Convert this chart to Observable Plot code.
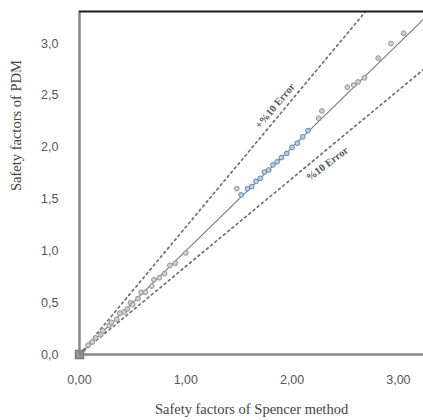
<!DOCTYPE html>
<html>
<head>
<meta charset="utf-8">
<script src="https://cdn.jsdelivr.net/npm/d3@7"></script>
<script src="https://cdn.jsdelivr.net/npm/@observablehq/plot@0.6"></script>
<style>
  html, body { margin: 0; padding: 0; background: #fff; }
</style>
</head>
<body>
<div id="chart"></div>
<script>
// ---- data ----
const xTicks = [0, 1, 2, 3];
const yTicks = [0, 0.5, 1, 1.5, 2, 2.5, 3];
const xDomain = [0, 3.236];
const yDomain = [0, 3.31];

// gray markers (Spencer, PDM)
const spencerGray = [0.0, 0.08, 0.12, 0.15, 0.2, 0.22, 0.28, 0.3, 0.35, 0.38, 0.42, 0.45, 0.48, 0.5, 0.55, 0.58, 0.62, 0.68, 0.7, 0.75, 0.8, 0.85, 0.9, 1.0, 1.48, 2.25, 2.28, 2.52, 2.58, 2.62, 2.68, 2.81, 2.93, 3.05];
const pdmGray     = [0.0, 0.09, 0.12, 0.16, 0.19, 0.23, 0.28, 0.31, 0.34, 0.40, 0.41, 0.44, 0.50, 0.48, 0.54, 0.60, 0.60, 0.66, 0.72, 0.74, 0.78, 0.86, 0.88, 0.98, 1.60, 2.28, 2.35, 2.58, 2.60, 2.63, 2.67, 2.86, 3.00, 3.10];
// blue markers
const spencerBlue = [1.52, 1.58, 1.62, 1.66, 1.70, 1.74, 1.78, 1.82, 1.86, 1.90, 1.95, 2.00, 2.05, 2.10, 2.15];
const pdmBlue     = [1.54, 1.60, 1.62, 1.67, 1.70, 1.76, 1.78, 1.83, 1.86, 1.90, 1.94, 2.00, 2.04, 2.10, 2.16];

// reference lines (1:1, +error, -error)
const equalityLine = {x: [0, 3.4], y: [0, 3.4]};
const upperLine = {x: [0, 3.0], y: [0, 3.69]};
const lowerLine = {x: [0, 3.4], y: [0, 2.89]};

const labelUpper = {text: "+%10 Error", x: 1.84, y: 2.40};
const labelLower = {text: "%10 Error", x: 2.33, y: 1.84};

const xTitle = "Safety factors of Spencer method";
const yTitle = "Safety factors of PDM";

// ---- build ----
const toPts = (xs, ys) => xs.map((x, i) => ({x, y: ys[i]}));
const grayPts = toPts(spencerGray, pdmGray);
const bluePts = toPts(spencerBlue, pdmBlue);
const eqPts = toPts(equalityLine.x, equalityLine.y);
const upPts = toPts(upperLine.x, upperLine.y);
const loPts = toPts(lowerLine.x, lowerLine.y);
const fmtX = d => d.toFixed(2).replace(".", ",");
const fmtY = d => d.toFixed(1).replace(".", ",");

const chart = Plot.plot({
  width: 423,
  height: 420,
  marginLeft: 79,
  marginRight: 0,
  marginTop: 11,
  marginBottom: 66,
  style: {background: "#fff", color: "#555", fontFamily: "Liberation Sans, Arial, sans-serif"},
  x: {domain: xDomain, ticks: xTicks, tickFormat: fmtX, label: null},
  y: {domain: yDomain, ticks: yTicks, tickFormat: fmtY, label: null},
  marks: [
    Plot.axisX({ticks: xTicks, tickFormat: fmtX, tickSize: 0, tickPadding: 21, fontSize: 12.5, label: null}),
    Plot.axisY({ticks: yTicks, tickFormat: fmtY, tickSize: 0, tickPadding: 21, fontSize: 12.5, label: null}),
    Plot.line(upPts, {x: "x", y: "y", stroke: "#707070", strokeWidth: 1.7, strokeDasharray: "2,3.5", clip: true}),
    Plot.line(loPts, {x: "x", y: "y", stroke: "#707070", strokeWidth: 1.7, strokeDasharray: "2,3.5", clip: true}),
    Plot.line(eqPts, {x: "x", y: "y", stroke: "#7a7a7a", strokeWidth: 1.1, clip: true}),
    Plot.dot(grayPts, {x: "x", y: "y", r: 2.4, stroke: "#8c8c8c", fill: "#d0d0d0", strokeWidth: 0.9}),
    Plot.dot(bluePts, {x: "x", y: "y", r: 2.4, stroke: "#5a7fa8", fill: "#b9cde2", strokeWidth: 0.9}),
    Plot.dot([grayPts[0]], {x: "x", y: "y", r: 4.5, symbol: "square", fill: "#9a9a9a", stroke: "#7a7a7a"}),
    Plot.ruleX([xDomain[0]], {stroke: "#868686", strokeWidth: 2.5}),
    Plot.ruleY([yDomain[0]], {stroke: "#868686", strokeWidth: 2.5}),
    Plot.ruleY([yDomain[1]], {stroke: "#1a1a1a", strokeWidth: 2}),
    Plot.text([labelUpper], {x: "x", y: "y", text: "text", rotate: -50, fontSize: 10.5, fontWeight: "bold", fill: "#555", fontFamily: "Liberation Serif, serif"}),
    Plot.text([labelLower], {x: "x", y: "y", text: "text", rotate: -37, fontSize: 10.5, fontWeight: "bold", fill: "#555", fontFamily: "Liberation Serif, serif"}),
    Plot.text([xTitle], {frameAnchor: "bottom", dy: 59, text: d => d, fontSize: 14.5, fill: "#444", fontFamily: "Liberation Serif, serif"}),
    Plot.text([yTitle], {frameAnchor: "left", dx: -63, dy: 8, rotate: -90, text: d => d, fontSize: 14.5, fill: "#444", fontFamily: "Liberation Serif, serif"})
  ]
});
document.getElementById("chart").appendChild(chart);
</script>
</body>
</html>
